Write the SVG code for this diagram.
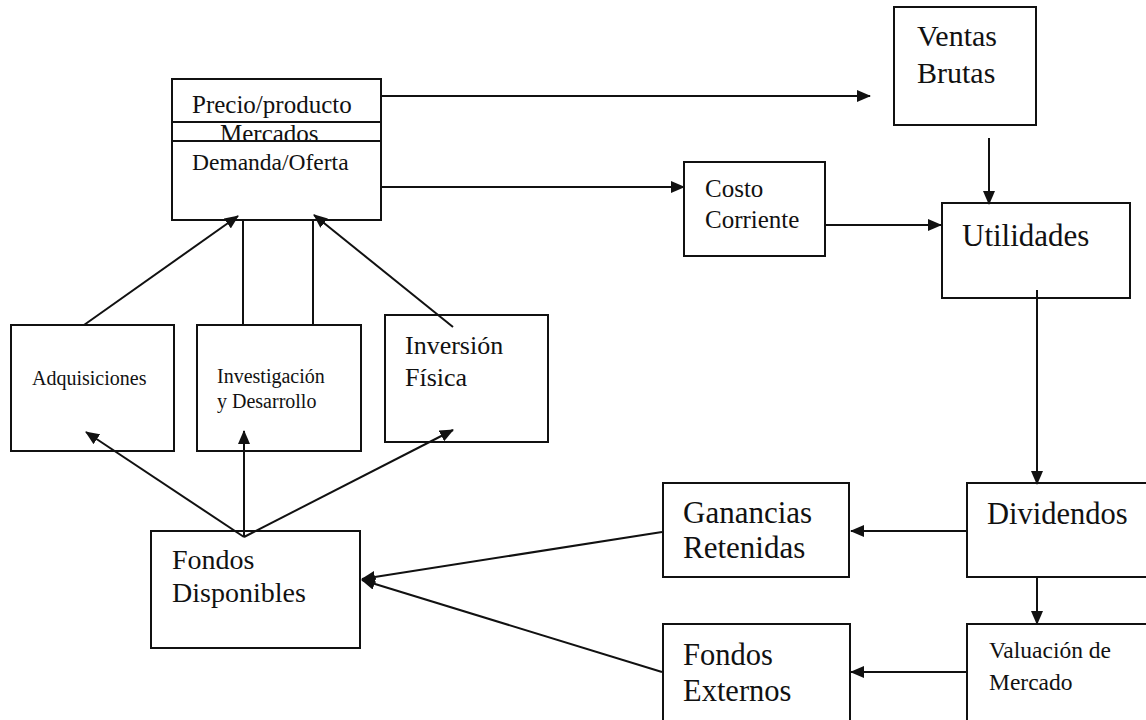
<svg xmlns="http://www.w3.org/2000/svg" width="1146" height="720" viewBox="0 0 1146 720">
  <style>
    .box { fill: none; stroke: #111; stroke-width: 2; }
    .div { stroke: #111; stroke-width: 2; }
    .edge { fill: none; stroke: #111; stroke-width: 2; }
    .lbl { font-family: "Liberation Serif", "Times New Roman", serif; fill: #111; }
  </style>
  <defs>
    <marker id="arrow" markerUnits="userSpaceOnUse" markerWidth="14" markerHeight="12" refX="13" refY="6" orient="auto">
      <path d="M0,0 L14,6 L0,12 z" fill="#111"/>
    </marker>
  </defs>
  <rect width="1146" height="720" fill="#fff"/>

  <!-- market block -->
  <g id="mercados">
    <rect class="box" x="172" y="79" width="209" height="141"/>
    <line class="div" x1="172" y1="122" x2="381" y2="122"/>
    <line class="div" x1="172" y1="141" x2="381" y2="141"/>
    <text class="lbl" x="192" y="113" font-size="25">Precio/producto</text>
    <text class="lbl" x="220" y="142" font-size="25">Mercados</text>
    <text class="lbl" x="192" y="170" font-size="23.5">Demanda/Oferta</text>
  </g>

  <g id="ventas">
    <rect class="box" x="894" y="7" width="142" height="118"/>
    <text class="lbl" x="917" y="46" font-size="30">Ventas</text>
    <text class="lbl" x="917" y="83" font-size="30">Brutas</text>
  </g>

  <g id="costo">
    <rect class="box" x="684" y="162" width="141" height="94"/>
    <text class="lbl" x="705" y="197" font-size="25">Costo</text>
    <text class="lbl" x="705" y="228" font-size="25">Corriente</text>
  </g>

  <g id="utilidades">
    <rect class="box" x="942" y="203" width="188" height="95"/>
    <text class="lbl" x="962" y="246" font-size="31">Utilidades</text>
  </g>

  <g id="adquisiciones">
    <rect class="box" x="11" y="325" width="163" height="126"/>
    <text class="lbl" x="32" y="385" font-size="20">Adquisiciones</text>
  </g>

  <g id="investigacion">
    <rect class="box" x="197" y="325" width="164" height="126"/>
    <text class="lbl" x="217" y="383" font-size="20">Investigación</text>
    <text class="lbl" x="217" y="408" font-size="20">y Desarrollo</text>
  </g>

  <g id="inversion">
    <rect class="box" x="385" y="315" width="163" height="127"/>
    <text class="lbl" x="405" y="354" font-size="26">Inversión</text>
    <text class="lbl" x="405" y="386" font-size="26">Física</text>
  </g>

  <g id="fondos-disponibles">
    <rect class="box" x="151" y="531" width="209" height="117"/>
    <text class="lbl" x="172" y="569" font-size="28">Fondos</text>
    <text class="lbl" x="172" y="602" font-size="28">Disponibles</text>
  </g>

  <g id="ganancias">
    <rect class="box" x="663" y="483" width="186" height="94"/>
    <text class="lbl" x="683" y="523" font-size="31">Ganancias</text>
    <text class="lbl" x="683" y="558" font-size="31">Retenidas</text>
  </g>

  <g id="dividendos">
    <rect class="box" x="967" y="483" width="200" height="94"/>
    <text class="lbl" x="987" y="524" font-size="30.5">Dividendos</text>
  </g>

  <g id="fondos-externos">
    <rect class="box" x="663" y="624" width="187" height="110"/>
    <text class="lbl" x="683" y="665" font-size="30.5">Fondos</text>
    <text class="lbl" x="683" y="701" font-size="30.5">Externos</text>
  </g>

  <g id="valuacion">
    <rect class="box" x="967" y="624" width="200" height="110"/>
    <text class="lbl" x="989" y="658" font-size="23.5">Valuación de</text>
    <text class="lbl" x="989" y="690" font-size="23.5">Mercado</text>
  </g>

  <!-- connectors -->
  <g id="connectors">
    <line class="edge" x1="381" y1="96" x2="870" y2="96" marker-end="url(#arrow)"/>
    <line class="edge" x1="381" y1="187" x2="684" y2="187" marker-end="url(#arrow)"/>
    <line class="edge" x1="825" y1="225" x2="941" y2="225" marker-end="url(#arrow)"/>
    <line class="edge" x1="989" y1="138" x2="989" y2="204" marker-end="url(#arrow)"/>
    <line class="edge" x1="1037" y1="290" x2="1037" y2="484" marker-end="url(#arrow)"/>
    <line class="edge" x1="1037" y1="577" x2="1037" y2="624" marker-end="url(#arrow)"/>
    <line class="edge" x1="967" y1="531" x2="851" y2="531" marker-end="url(#arrow)"/>
    <line class="edge" x1="967" y1="672" x2="851" y2="672" marker-end="url(#arrow)"/>
    <line class="edge" x1="662" y1="532" x2="362" y2="579" marker-end="url(#arrow)"/>
    <line class="edge" x1="662" y1="672" x2="362" y2="580" marker-end="url(#arrow)"/>
    <line class="edge" x1="244" y1="537" x2="86" y2="432" marker-end="url(#arrow)"/>
    <line class="edge" x1="244" y1="537" x2="244" y2="431" marker-end="url(#arrow)"/>
    <line class="edge" x1="244" y1="537" x2="453" y2="430" marker-end="url(#arrow)"/>
    <line class="edge" x1="84" y1="325" x2="238" y2="216" marker-end="url(#arrow)"/>
    <line class="edge" x1="243" y1="325" x2="243" y2="220"/>
    <line class="edge" x1="313" y1="325" x2="313" y2="220"/>
    <line class="edge" x1="453" y1="327" x2="314" y2="215" marker-end="url(#arrow)"/>
  </g>
</svg>
